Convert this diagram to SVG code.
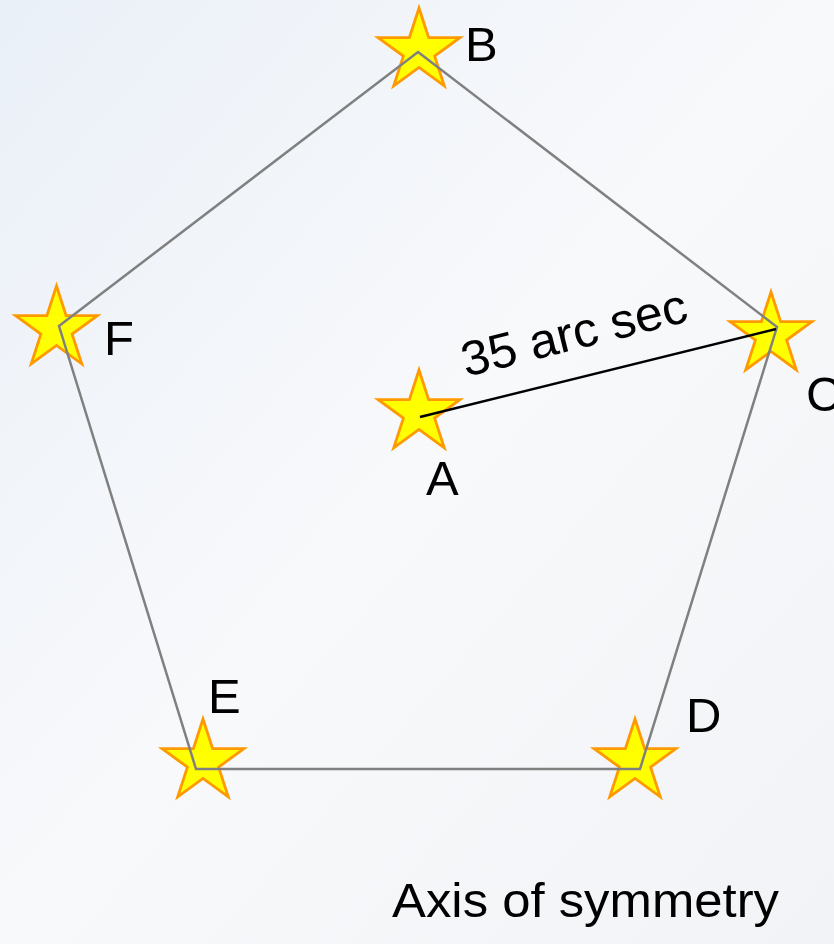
<svg xmlns="http://www.w3.org/2000/svg" width="834" height="944" viewBox="0 0 834 944">
  <defs>
    <linearGradient id="bg" x1="0" y1="0" x2="1" y2="1">
      <stop offset="0" stop-color="#eaf0f8"/>
      <stop offset="0.5" stop-color="#f8f9fb"/>
      <stop offset="1" stop-color="#f2f3f6"/>
    </linearGradient>
    <polygon id="star" points="0,-43 9.65,-13.29 40.9,-13.29 15.62,5.07 25.27,34.79 0,16.42 -25.27,34.79 -15.62,5.07 -40.9,-13.29 -9.65,-13.29"/>
    <style>
      .star { fill: #ffff00; stroke: #ff9900; stroke-width: 2.8; stroke-linejoin: miter; }
      .lbl { font-family: "Liberation Sans", Arial, sans-serif; font-size: 49px; fill: #000000; }
      .edge { fill: none; stroke: #808080; stroke-width: 2.5; }
      .radius { fill: none; stroke: #000000; stroke-width: 2.5; }
    </style>
  </defs>
  <rect width="834" height="944" fill="url(#bg)"/>

  <g id="node-B"><use href="#star" class="star" x="419" y="51"/><text class="lbl" x="465" y="61">B</text></g>
  <g id="node-C"><use href="#star" class="star" x="771" y="335"/><text class="lbl" x="806" y="411">C</text></g>
  <g id="node-A"><use href="#star" class="star" x="419" y="413"/><text class="lbl" x="426" y="495">A</text></g>
  <g id="node-F"><use href="#star" class="star" x="56.5" y="329"/><text class="lbl" x="104" y="355">F</text></g>
  <g id="node-E"><use href="#star" class="star" x="203" y="762"/><text class="lbl" x="208" y="713">E</text></g>
  <g id="node-D"><use href="#star" class="star" x="635" y="762"/><text class="lbl" x="686" y="732">D</text></g>

  <g id="connectors">
    <polygon class="edge" points="418,52 777,327 640,769 196,769 59,326"/>
    <line class="radius" x1="420" y1="417" x2="776" y2="329"/>
    <text class="lbl" x="578" y="349" text-anchor="middle" textLength="231" lengthAdjust="spacingAndGlyphs" transform="rotate(-14 578 349)">35 arc sec</text>
  </g>

  <text class="lbl" x="392" y="917" textLength="387" lengthAdjust="spacingAndGlyphs">Axis of symmetry</text>
</svg>
